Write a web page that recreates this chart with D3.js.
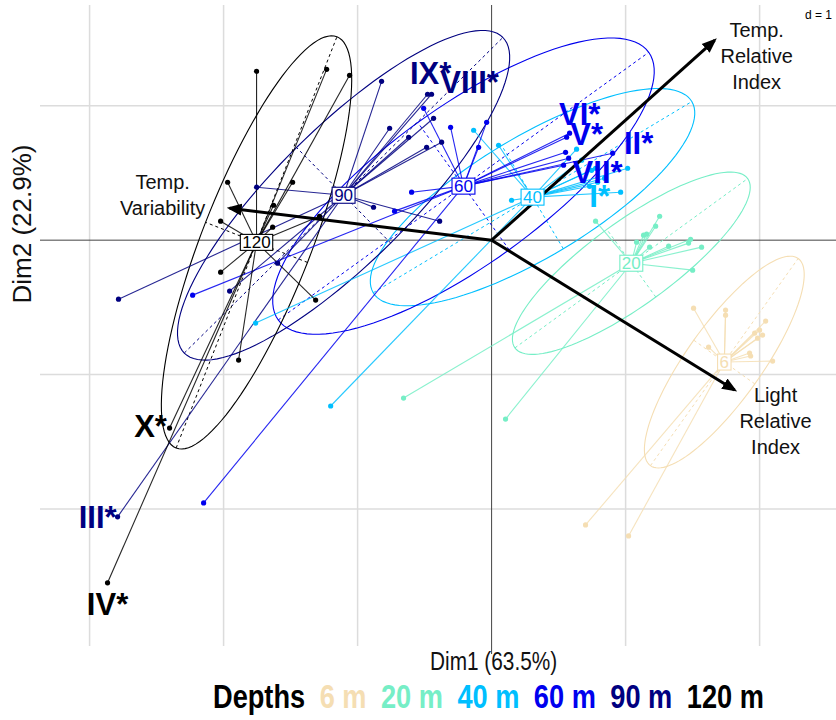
<!DOCTYPE html>
<html><head><meta charset="utf-8">
<script src="https://cdn.jsdelivr.net/npm/d3@7/dist/d3.min.js"></script>
<style>
body{margin:0;background:#fff}
text{font-family:"Liberation Sans",Arial,Helvetica,sans-serif}
</style>
</head><body>
<svg id="chart" width="836" height="720"></svg>
<script>
// ---------- DATA (factorial coordinates, Dim1 / Dim2) ----------
const depths      = ["6","20","40","60","90","120"];
const depthColors = ["#F5DEB3","#76EEC6","#00BFFF","#0000EE","#000080","#000000"];

const pts6 = [[1.507,-0.506],[1.746,-0.520],[1.746,-0.558],[2.045,-0.602],[1.963,-0.691],[2.022,-0.706],
  [1.985,-0.729],[1.619,-0.796],[1.925,-0.840],[1.933,-0.862],[2.097,-0.900],[0.701,-2.119],[1.022,-2.201],[2.000,-0.669]];
const pts20 = [[0.776,0.141],[1.254,0.178],[1.224,0.104],[1.157,0.045],[1.134,0.037],[1.082,-0.015],[1.179,-0.052],
  [1.321,-0.045],[1.485,0.007],[1.470,-0.022],[1.567,-0.052],[1.500,-0.223],[-0.657,-1.175],[0.104,-1.331]];
const pts40 = [[0.052,0.706],[-0.134,0.818],[0.149,0.297],[0.634,0.677],[1.015,0.535],[0.963,0.357],[0.791,0.431],
  [0.843,0.461],[0.731,0.401],[-1.761,-0.617],[-1.201,-1.234],[0.672,0.595],[0.776,0.535],[0.746,0.520]];
const pts60 = [[-0.507,0.981],[-0.306,0.840],[-0.097,0.691],[-0.037,0.877],[-0.597,0.357],[-0.724,0.216],[-2.231,-0.409],
  [-2.149,-1.955],[0.582,0.796],[0.560,0.766],[0.552,0.654],[0.575,0.610],[0.537,0.558],[0.903,0.647]];
const pts90 = [[-0.821,1.182],[-0.478,1.086],[-0.448,1.086],[-0.433,0.907],[-0.619,0.766],[-0.761,0.833],[-0.373,0.729],
  [-0.485,0.691],[-0.881,0.245],[-0.388,0.141],[-1.754,0.394],[-2.784,-0.439],[-1.955,-0.379],[-1.597,-0.171],[-2.791,-2.059]];
const pts120 = [[-1.754,1.257],[-1.231,1.271],[-1.060,1.227],[-1.970,0.431],[-1.485,0.431],[-1.627,0.260],[-2.022,0.141],
  [-1.284,0.178],[-1.634,0.097],[-2.022,-0.238],[-1.888,-0.892],[-1.313,-0.446],[-2.403,-1.398],[-2.866,-2.550]];
const groupPoints = [pts6, pts20, pts40, pts60, pts90, pts120];

// variables (arrows)
const varNames = ["Temp.\nRelative\nIndex", "Temp.\nVariability", "Light\nRelative\nIndex"];
const varDim1  = [1.664, -1.955, 1.813];
const varDim2  = [1.487, 0.238, -1.115];
const varLabelDim1 = [1.978, -2.455, 2.119];
const varLabelDim2 = [1.368, 0.335, -1.346];

// starred site labels
const siteLabels = ["IX*","VIII*","VI*","V*","II*","VII*","I*","III*","X*","IV*"];
const siteDepth  = ["90","90","60","60","60","60","40","90","120","120"];
const siteDim1   = [-0.455,-0.164,0.657,0.709,1.097,0.791,0.806,-2.940,-2.545,-2.866];
const siteDim2   = [1.242,1.175,0.937,0.788,0.721,0.506,0.327,-2.059,-1.383,-2.706];

const gridX = [-3,-2,-1,1,2];
const gridY = [-2,-1,1];
const xTitle = "Dim1 (63.5%)", yTitle = "Dim2 (22.9%)";
const legendTitle = "Depths";
const ellipseCoef = 1.5;

// ---------- DRAWING ----------
const svg = d3.select("#chart");
const x = d3.scaleLinear().domain([-3.37, 2.57]).range([40, 836]);
const y = d3.scaleLinear().domain([-3.02, 1.75]).range([646, 5]);
const col = d3.scaleOrdinal().domain(depths).range(depthColors);

// grid
svg.append("g").selectAll("line").data(gridX).join("line")
  .attr("x1", d=>x(d)).attr("x2", d=>x(d)).attr("y1", y.range()[1]).attr("y2", y.range()[0])
  .attr("stroke","#dcdcdc").attr("stroke-width",1.5);
svg.append("g").selectAll("line").data(gridY).join("line")
  .attr("y1", d=>y(d)).attr("y2", d=>y(d)).attr("x1", x.range()[0]).attr("x2", x.range()[1])
  .attr("stroke","#dcdcdc").attr("stroke-width",1.5);
// origin axes
svg.append("line").attr("x1",x.range()[0]).attr("x2",x.range()[1]).attr("y1",y(0)).attr("y2",y(0))
  .attr("stroke","#444").attr("stroke-width",1);
svg.append("line").attr("x1",x(0)).attr("x2",x(0)).attr("y1",y.range()[1]).attr("y2",y.range()[0]+8)
  .attr("stroke","#444").attr("stroke-width",1);

// per-group statistics
const groups = depths.map((d,i)=>{
  const P = groupPoints[i], n = P.length;
  const mx = d3.mean(P,p=>p[0]), my = d3.mean(P,p=>p[1]);
  let sxx=0, syy=0, sxy=0;
  P.forEach(p=>{const dx=p[0]-mx, dy=p[1]-my; sxx+=dx*dx; syy+=dy*dy; sxy+=dx*dy;});
  sxx/=n; syy/=n; sxy/=n;
  const m=(sxx+syy)/2, r=Math.sqrt(((sxx-syy)/2)**2 + sxy*sxy);
  const l1=m+r, l2=Math.max(m-r,0);
  const phi = 0.5*Math.atan2(2*sxy, sxx-syy);
  return {depth:d, color:col(d), pts:P, mx, my,
          a: ellipseCoef*Math.sqrt(l1), b: ellipseCoef*Math.sqrt(l2), phi};
});

const gEll = svg.append("g");
groups.forEach(g=>{
  const c=Math.cos(g.phi), s=Math.sin(g.phi);
  const ring = d3.range(0, 361, 3).map(t=>{
    const tt=t*Math.PI/180, u=g.a*Math.cos(tt), v=g.b*Math.sin(tt);
    return [x(g.mx + u*c - v*s), y(g.my + u*s + v*c)];
  });
  gEll.append("path").attr("d", d3.line()(ring)).attr("fill","none")
    .attr("stroke", g.color).attr("stroke-width",1.1);
  [[g.a*c, g.a*s],[-g.b*s, g.b*c]].forEach(ax=>{
    gEll.append("line")
      .attr("x1", x(g.mx-ax[0])).attr("y1", y(g.my-ax[1]))
      .attr("x2", x(g.mx+ax[0])).attr("y2", y(g.my+ax[1]))
      .attr("stroke", g.color).attr("stroke-width",1).attr("stroke-dasharray","3,3");
  });
});

// stars
const gStar = svg.append("g");
groups.forEach(g=>{
  gStar.selectAll(null).data(g.pts).join("line")
    .attr("x1", x(g.mx)).attr("y1", y(g.my))
    .attr("x2", p=>x(p[0])).attr("y2", p=>y(p[1]))
    .attr("stroke", g.color).attr("stroke-width",1.1).attr("stroke-opacity",0.85);
});
// points
const gPts = svg.append("g");
groups.forEach(g=>{
  gPts.selectAll(null).data(g.pts).join("circle")
    .attr("cx", p=>x(p[0])).attr("cy", p=>y(p[1])).attr("r",2.6).attr("fill", g.color);
});

// arrows
const defs = svg.append("defs");
defs.append("marker").attr("id","ah").attr("viewBox","0 0 10 10").attr("refX",8).attr("refY",5)
  .attr("markerWidth",5).attr("markerHeight",5).attr("orient","auto-start-reverse")
  .append("path").attr("d","M0,1 L10,5 L0,9 Z").attr("fill","#000");
svg.append("g").selectAll("line").data(varNames).join("line")
  .attr("x1", x(0)).attr("y1", y(0))
  .attr("x2", (d,i)=>x(varDim1[i])).attr("y2", (d,i)=>y(varDim2[i]))
  .attr("stroke","#000").attr("stroke-width",3).attr("marker-end","url(#ah)");

// centroid labels
const gLab = svg.append("g");
groups.forEach(g=>{
  const t = gLab.append("text").attr("x", x(g.mx)).attr("y", y(g.my)+6)
    .attr("text-anchor","middle").attr("font-size",17).attr("fill", g.color).text(g.depth);
  const bb = t.node().getBBox();
  gLab.insert("rect", function(){return t.node();})
    .attr("x", bb.x-2).attr("y", y(g.my)-8).attr("width", bb.width+4).attr("height", 16)
    .attr("fill","#fff").attr("stroke", g.color).attr("stroke-width",1.1);
});

// arrow labels
const gVL = svg.append("g");
varNames.forEach((nm,i)=>{
  const lines = nm.split("\n");
  const t = gVL.append("text").attr("text-anchor","middle").attr("font-size",20).attr("fill","#111");
  lines.forEach((ln,j)=>{
    t.append("tspan").attr("x", x(varLabelDim1[i]))
     .attr("y", y(varLabelDim2[i]) + (j-(lines.length-1)/2)*26 + 7).text(ln);
  });
});

// starred site labels
svg.append("g").selectAll("text").data(siteLabels).join("text")
  .attr("x",(d,i)=>x(siteDim1[i])).attr("y",(d,i)=>y(siteDim2[i])+11)
  .attr("text-anchor","middle").attr("font-size",31).attr("font-weight","bold")
  .attr("fill",(d,i)=>col(siteDepth[i])).text(d=>d);

// d = 1
svg.append("text").attr("x",832).attr("y",19).attr("text-anchor","end").attr("font-size",12).text("d = 1");

// axis titles
svg.append("text").attr("transform",`translate(${x(0)+2},670) scale(0.8,1)`)
  .attr("text-anchor","middle").attr("font-size",26).attr("fill","#111").text(xTitle);
svg.append("text").attr("transform",`translate(31,224) rotate(-90)`)
  .attr("text-anchor","middle").attr("font-size",26).attr("fill","#111").text(yTitle);

// legend
const legItems = [{t:legendTitle, c:"#000"}].concat(depths.map(d=>({t:d+" m", c:col(d)})));
let lx = 213;
const gLeg = svg.append("g");
legItems.forEach(it=>{
  const t = gLeg.append("text").attr("transform",`translate(${lx},708) scale(0.8,1)`)
    .attr("font-size",34).attr("font-weight","bold").attr("fill",it.c).text(it.t);
  lx += t.node().getComputedTextLength()*0.8 + 14.5;
});
</script>
</body></html>
